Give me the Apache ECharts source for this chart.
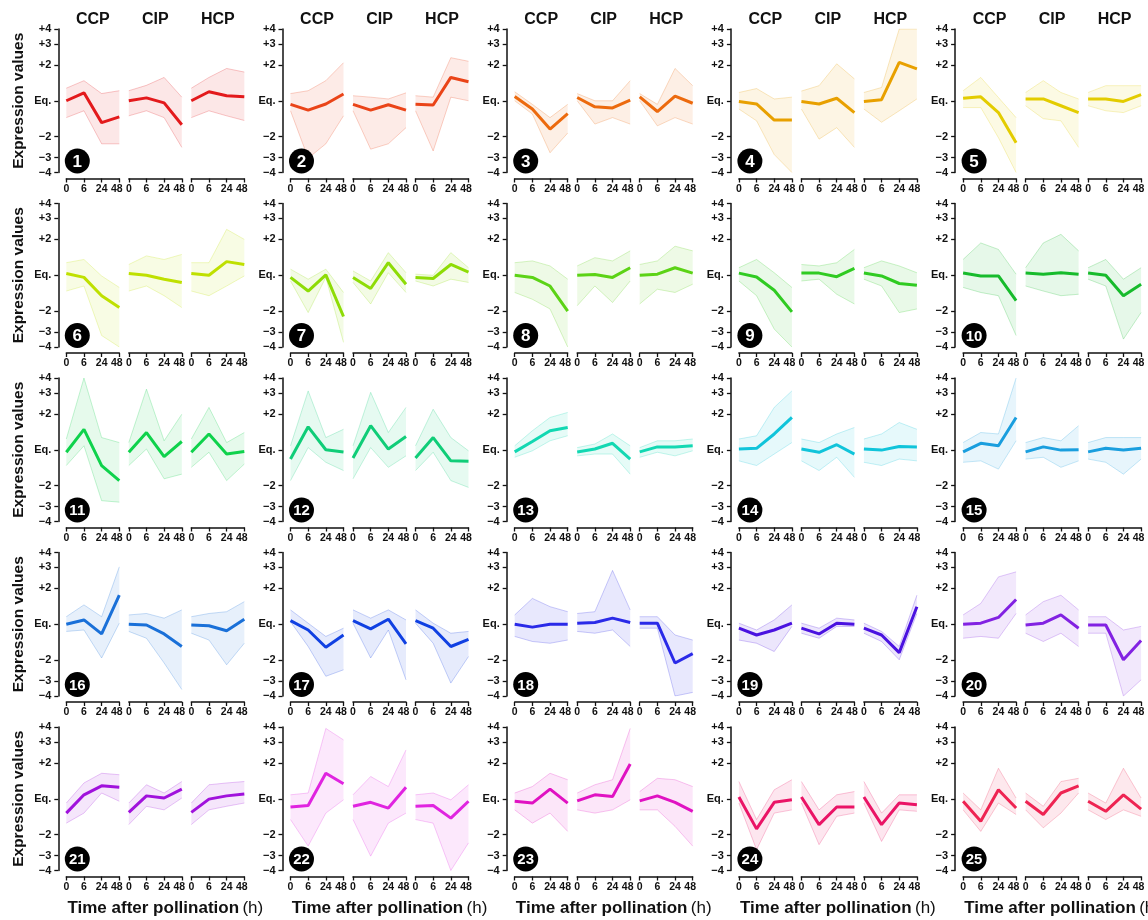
<!DOCTYPE html>
<html><head><meta charset="utf-8">
<script src="https://cdn.jsdelivr.net/npm/echarts@6/dist/echarts.min.js"></script>
<style>html,body{margin:0;padding:0;background:#fff}#c{width:1148px;height:920px}</style>
</head><body><div id="c"></div>
<script>
// ---------- DATA ----------
const conditions = ['CCP', 'CIP', 'HCP'];
const timeLabels = ['0', '6', '24', '48'];
const yTickRatios = [4, 3, 2, 1, 1/2, 1/3, 1/4];
const yTickLabels = ['+4', '+3', '+2', 'Eq.', '\u22122', '\u22123', '\u22124'];
const clusterIds = ['1','2','3','4','5','6','7','8','9','10','11','12','13','14','15','16','17','18','19','20','21','22','23','24','25'];
const clusterColors = ['#e31a1c','#ea4418','#ec6a0e','#e8a000','#e3cc00','#bfe000','#8edc06','#5cd316','#30cb22','#17bb2c',
  '#0fd24c','#10cd78','#12d8b2','#10c4da','#1a9ede','#1a70d8','#1040e2','#2a2ae8','#4a12e0','#8222e2',
  '#a012dc','#e024e0','#e012c2','#ea1466','#ee2452'];
// log2 expression values, 12 per cluster: CCP(0,6,24,48), CIP(0,6,24,48), HCP(0,6,24,48)
const meanCurves = [
  [0,0.22,-0.61,-0.45, 0,0.08,-0.06,-0.67, 0,0.25,0.14,0.11],
  [-0.1,-0.26,-0.09,0.19, -0.1,-0.26,-0.11,-0.26, -0.1,-0.12,0.65,0.53],
  [0.12,-0.23,-0.79,-0.36, 0.09,-0.17,-0.2,0.02, 0.11,-0.3,0.13,-0.07],
  [-0.02,-0.09,-0.54,-0.54, -0.02,-0.09,0.07,-0.33, -0.02,0.03,1.07,0.89],
  [0.07,0.11,-0.33,-1.17, 0.05,0.05,-0.14,-0.33, 0.05,0.05,-0.02,0.17],
  [0.05,-0.06,-0.57,-0.9, 0.05,0,-0.11,-0.2, 0.05,0,0.38,0.3],
  [-0.06,-0.44,0.01,-1.15, -0.06,-0.37,0.35,-0.25, -0.06,-0.09,0.3,0.09],
  [0,-0.06,-0.3,-1.0, 0,0.02,-0.06,0.21, 0,0.03,0.21,0.06],
  [0.06,-0.05,-0.42,-1.02, 0.06,0.06,-0.04,0.19, 0.06,-0.02,-0.23,-0.28],
  [0.06,-0.02,-0.02,-0.71, 0.06,0.03,0.07,0.03, 0.06,0,-0.57,-0.25],
  [-0.07,0.57,-0.44,-0.86, -0.07,0.48,-0.19,0.23, -0.07,0.44,-0.12,-0.05],
  [-0.26,0.64,0,-0.06, -0.23,0.67,0.02,0.37, -0.23,0.34,-0.31,-0.32],
  [-0.06,0.23,0.53,0.62, -0.06,0.02,0.18,-0.26, -0.06,0.08,0.08,0.11],
  [0.02,0.04,0.44,0.9, 0.02,-0.07,0.14,-0.12, 0.02,-0.01,0.09,0.08],
  [-0.06,0.18,0.11,0.9, -0.06,0.08,-0.01,0, -0.06,0.04,-0.01,0.04],
  [0,0.12,-0.27,0.81, 0,-0.02,-0.27,-0.62, -0.02,-0.04,-0.18,0.14],
  [0.1,-0.16,-0.64,-0.3, 0.1,-0.13,0.14,-0.55, 0.1,-0.11,-0.62,-0.42],
  [0,-0.08,0,0, 0.03,0.05,0.17,0.05, 0.03,0.03,-1.08,-0.82],
  [-0.11,-0.3,-0.16,0.03, -0.11,-0.27,0.03,0, -0.11,-0.3,-0.79,0.49],
  [0,0.03,0.19,0.69, -0.02,0.03,0.26,-0.11, -0.02,-0.02,-0.99,-0.45],
  [-0.4,0.11,0.36,0.32, -0.38,0.08,0.02,0.27, -0.38,-0.01,0.08,0.13],
  [-0.23,-0.19,0.71,0.42, -0.21,-0.1,-0.26,0.32, -0.21,-0.19,-0.54,-0.07],
  [-0.07,-0.12,0.27,-0.12, -0.06,0.11,0.06,0.97, -0.06,0.08,-0.1,-0.35],
  [0.05,-0.84,-0.1,-0.03, 0.05,-0.72,-0.23,-0.23, 0.05,-0.72,-0.12,-0.17],
  [-0.07,-0.63,0.25,-0.26, -0.07,-0.44,0.16,0.36, -0.07,-0.35,0.11,-0.29]
];
const upperCurves = [
  [0.35,0.56,0.2,0.28, 0.28,0.43,0.65,0.1, 0.35,0.65,0.9,0.8],
  [0.2,0.28,0.56,1.06, 0.14,0.1,0.05,0.22, 0.14,0.1,1.2,1.1],
  [0.25,-0.1,-0.47,-0.1, 0.2,0,0,0.56, 0.2,-0.1,0.9,0.42],
  [0.23,0.34,0.05,0.1, 0.27,0.42,1.03,0.61, 0.23,0.37,2.0,2.0],
  [0.28,0.65,0.09,-0.47, 0.23,0.56,0.23,0.05, 0.23,0.42,0.42,0.42],
  [0.35,0.44,-0.02,-0.34, 0.3,0.54,0.44,0.58, 0.35,0.35,1.28,1.0],
  [0.17,-0.11,0.17,-0.48, 0.12,-0.16,0.63,0.07, 0.03,0,0.63,0.21],
  [0.35,0.4,0.26,-0.11, 0.26,0.49,0.4,0.68, 0.3,0.4,0.81,0.68],
  [0.21,0.44,0.07,-0.34, 0.3,0.26,0.35,0.72, 0.21,0.4,0.26,0.07],
  [0.44,0.9,0.72,0.03, 0.21,0.9,1.14,0.68, 0.21,0.44,-0.11,0.21],
  [0.3,2.0,0.34,0.2, 0.2,1.69,0.25,0.99, 0.3,1.18,0.2,0.48],
  [0.11,1.64,0.34,0.57, 0.11,1.6,0.48,1.18, 0.11,1.13,0.34,-0.03],
  [0.11,0.53,0.9,1.04, 0.06,0.16,0.44,0.11, 0.06,0.25,0.25,0.3],
  [0.3,0.39,1.18,1.64, 0.3,0.2,0.44,0.62, 0.3,0.44,0.76,0.57],
  [0.2,0.48,0.44,2.0, 0.2,0.34,0.25,0.67, 0.2,0.34,0.34,0.34],
  [0.21,0.54,0.21,1.6, 0.26,0.3,0.17,0.4, 0.21,0.3,0.35,0.63],
  [0.4,0.03,-0.34,-0.11, 0.4,0.17,0.4,0.12, 0.4,0.03,-0.25,-0.2],
  [0.26,0.72,0.49,0.35, 0.3,0.35,1.5,0.4, 0.21,0.21,-0.3,-0.44],
  [0.03,-0.16,0.12,0.54, 0.03,-0.11,0.17,0.12, 0.03,-0.2,-0.62,0.81],
  [0.26,0.58,1.32,1.46, 0.26,0.63,0.81,0.4, 0.21,0.21,-0.16,-0.06],
  [-0.12,0.44,0.71,0.67, -0.12,0.39,0.16,0.48, -0.12,0.39,0.44,0.48],
  [0.11,0.16,1.96,1.64, 0.11,0.62,0.34,1.36, 0.11,0.16,-0.03,0.39],
  [0.16,0.34,0.71,0.53, 0.16,0.39,0.53,1.96, 0.2,0.57,0.53,0.34],
  [0.48,-0.58,0.25,0.53, 0.48,-0.31,0.11,0.2, 0.48,-0.4,0.11,0.11],
  [0.16,-0.31,0.85,0.02, 0.16,-0.21,0.48,0.57, 0.16,-0.12,0.85,0.02]
];
const lowerCurves = [
  [-0.47,-0.28,-1.2,-1.2, -0.42,-0.28,-0.47,-1.3, -0.47,-0.28,-0.42,-0.55],
  [-0.28,-1.6,-1.2,-0.42, -0.28,-1.35,-1.2,-0.75, -0.28,-1.4,0.1,0.0],
  [0,-0.37,-1.45,-0.9, 0,-0.65,-0.47,-0.65, 0,-0.7,-0.47,-0.65],
  [-0.23,-0.56,-1.5,-2.0, -0.23,-1.07,-0.75,-1.3, -0.23,-0.6,-0.28,0.05],
  [-0.19,-0.19,-1.03,-2.0, -0.14,-0.5,-0.56,-1.3, -0.14,-0.28,-0.33,-0.14],
  [-0.44,-0.3,-1.68,-2.0, -0.44,-0.3,-0.57,-0.9, -0.44,-0.57,-0.3,-0.02],
  [-0.16,-1.04,-0.06,-1.87, -0.2,-0.8,0.07,-0.48, -0.16,-0.3,-0.11,-0.2],
  [-0.48,-0.67,-0.94,-2.0, -0.85,-0.3,-0.76,-0.16, -0.8,-0.39,-0.48,-0.25],
  [-0.16,-0.57,-1.5,-2.0, -0.16,-0.11,-0.53,-0.8, -0.11,-0.3,-1.04,-0.94],
  [-0.34,-0.48,-0.57,-1.68, -0.3,-0.44,-0.57,-0.53, -0.11,-0.3,-1.78,-1.04],
  [-0.44,0.11,-1.42,-1.46, -0.44,0.02,-0.81,-0.68, -0.49,-0.07,-0.86,-0.4],
  [-0.86,0.06,-0.35,-0.58, -0.81,0.06,-0.49,-0.17, -0.58,-0.07,-0.86,-1.05],
  [-0.21,-0.03,0.25,0.39, -0.17,-0.12,-0.12,-0.68, -0.21,-0.07,-0.17,-0.03],
  [-0.31,-0.44,-0.12,0.2, -0.31,-0.58,-0.21,-0.77, -0.35,-0.44,-0.26,-0.31],
  [-0.35,-0.31,-0.54,0.25, -0.26,-0.21,-0.49,-0.31, -0.26,-0.35,-0.68,-0.26],
  [-0.2,-0.16,-0.94,0.03, -0.2,-0.39,-1.08,-1.82, -0.25,-0.44,-1.13,-0.53],
  [0.07,-0.62,-1.45,-1.27, 0.03,-0.94,-0.16,-1.55, 0.03,-0.53,-1.64,-0.9],
  [-0.34,-0.48,-0.53,-0.44, -0.2,-0.25,-0.16,-0.62, -0.11,-0.11,-2.0,-1.9],
  [-0.44,-0.53,-0.76,-0.06, -0.25,-0.39,-0.06,-0.06, -0.25,-0.48,-0.99,0.3],
  [-0.39,-0.34,-0.39,0.3, -0.25,-0.48,-0.25,-0.62, -0.25,-0.25,-2.0,-1.55],
  [-0.68,-0.4,0.16,-0.07, -0.72,-0.21,-0.31,0.02, -0.72,-0.31,-0.21,-0.12],
  [-0.58,-1.32,-0.4,-0.03, -0.58,-1.6,-0.68,-0.4, -0.58,-0.68,-2.0,-1.23],
  [-0.31,-0.68,-0.4,-0.91, -0.31,-0.4,-0.31,-0.03, -0.31,-0.31,-0.77,-1.32],
  [-0.12,-1.42,-0.4,-0.31, -0.12,-1.28,-0.49,-0.4, -0.12,-1.19,-0.31,-0.35],
  [-0.31,-0.91,-0.12,-0.44, -0.31,-0.81,-0.4,0.16, -0.31,-0.58,-0.31,-0.49]
];
const yAxisTitle = 'Expression values';
const xAxisTitle = 'Time after pollination';
const xAxisUnit = '(h)';

// ---------- LAYOUT / RENDER ----------
const FONT = '"Liberation Sans", Arial, Helvetica, sans-serif';
const yTickValues = yTickRatios.map(r => Math.log2(r));
function yLabel(v) {
  for (let i = 0; i < yTickValues.length; i++) if (Math.abs(yTickValues[i] - v) < 1e-6) return yTickLabels[i];
  return '';
}
function rgba(hex, a) {
  const n = parseInt(hex.slice(1), 16);
  return 'rgba(' + ((n >> 16) & 255) + ',' + ((n >> 8) & 255) + ',' + (n & 255) + ',' + a + ')';
}
const AX0 = 58.3, PDX = 224.2, SUBDX = 62.5, SUBW = 53, TOP0 = 29, RDY = 174.5, H = 143.5;
const grids = [], xAxes = [], yAxes = [], series = [], graphics = [];
const xLabelFont = { fontFamily: FONT, fontWeight: 'bold', fontSize: 10.5, color: '#111' };

for (let p = 0; p < clusterIds.length; p++) {
  const r = Math.floor(p / 5), c = p % 5;
  const axisX = AX0 + PDX * c, top = TOP0 + RDY * r;
  const col = clusterColors[p];
  for (let k = 0; k < 3; k++) {
    const gi = p * 3 + k;
    const left = axisX + 8 + SUBDX * k;
    grids.push({ left: left, top: top, width: SUBW, height: H });
    xAxes.push({
      type: 'category', gridIndex: gi, data: timeLabels, boundaryGap: false, offset: 6, position: 'bottom',
      axisLine: { onZero: false, lineStyle: { color: '#111', width: 1.5 } },
      axisTick: { length: 4, lineStyle: { color: '#111', width: 1.3 } },
      axisLabel: Object.assign({
        interval: 0, margin: 5, hideOverlap: false,
        formatter: (v, i) => i === timeLabels.length - 1 ? '{e|' + v + '}' : v,
        rich: { e: Object.assign({ padding: [0, 5, 0, 0] }, xLabelFont) }
      }, xLabelFont),
      splitLine: { show: false }
    });
    yAxes.push({
      type: 'value', gridIndex: gi, min: -2, max: 2, show: k === 0, offset: 8,
      axisLine: { show: true, onZero: false, lineStyle: { color: '#111', width: 1.5 } },
      axisTick: { show: true, customValues: yTickValues, length: 4, lineStyle: { color: '#111', width: 1.3 } },
      axisLabel: { customValues: yTickValues, formatter: yLabel, margin: 7, fontFamily: FONT, fontWeight: 'bold', fontSize: 11, color: '#111' },
      splitLine: { show: false }
    });
    const m = meanCurves[p].slice(k * 4, k * 4 + 4);
    const hi = upperCurves[p].slice(k * 4, k * 4 + 4);
    const lo = lowerCurves[p].slice(k * 4, k * 4 + 4);
    const thin = { width: 0.8, color: rgba(col, 0.3) };
    series.push({
      type: 'line', xAxisIndex: gi, yAxisIndex: gi, data: lo, stack: 's' + gi, stackStrategy: 'all',
      symbol: 'none', lineStyle: thin, silent: true, z: 2
    });
    series.push({
      type: 'line', xAxisIndex: gi, yAxisIndex: gi, data: hi.map((v, i) => v - lo[i]), stack: 's' + gi, stackStrategy: 'all',
      symbol: 'none', lineStyle: thin, areaStyle: { color: rgba(col, 0.15) }, silent: true, z: 2
    });
    series.push({
      type: 'line', xAxisIndex: gi, yAxisIndex: gi, data: m,
      symbol: 'none', lineStyle: { width: 3, color: col }, silent: true, z: 5
    });
    if (r === 0) {
      graphics.push({ type: 'text', x: left + SUBW / 2, y: 20, style: { text: conditions[k], font: 'bold 16px ' + FONT, fill: '#111', align: 'center', verticalAlign: 'middle' } });
    }
  }
  // badge
  const cx = axisX + 19, cy = top + H - 11.5;
  graphics.push({ type: 'circle', shape: { cx: cx, cy: cy, r: 12.5 }, style: { fill: '#000' }, z: 10 });
  graphics.push({ type: 'text', x: cx, y: cy + 1, z: 11, style: { text: clusterIds[p], font: 'bold ' + (clusterIds[p].length > 1 ? 15 : 17) + 'px ' + FONT, fill: '#fff', align: 'center', verticalAlign: 'middle' } });
  if (c === 0) {
    graphics.push({ type: 'text', x: 19, y: top + H / 2, rotation: Math.PI / 2, style: { text: yAxisTitle, font: 'bold 15.5px ' + FONT, fill: '#111', align: 'center', verticalAlign: 'middle' } });
  }
  if (r === 4) {
    graphics.push({ type: 'text', x: axisX + 107, y: 908, style: {
      text: '{b|' + xAxisTitle + '} {n|' + xAxisUnit + '}', align: 'center', verticalAlign: 'middle',
      rich: { b: { font: 'bold 17px ' + FONT, fill: '#111' }, n: { font: '17px ' + FONT, fill: '#111' } }
    } });
  }
}

const chart = echarts.init(document.getElementById('c'), null, { renderer: 'canvas' });
chart.setOption({
  animation: false,
  backgroundColor: '#fff',
  grid: grids, xAxis: xAxes, yAxis: yAxes, series: series,
  graphic: { elements: graphics }
});
</script></body></html>
